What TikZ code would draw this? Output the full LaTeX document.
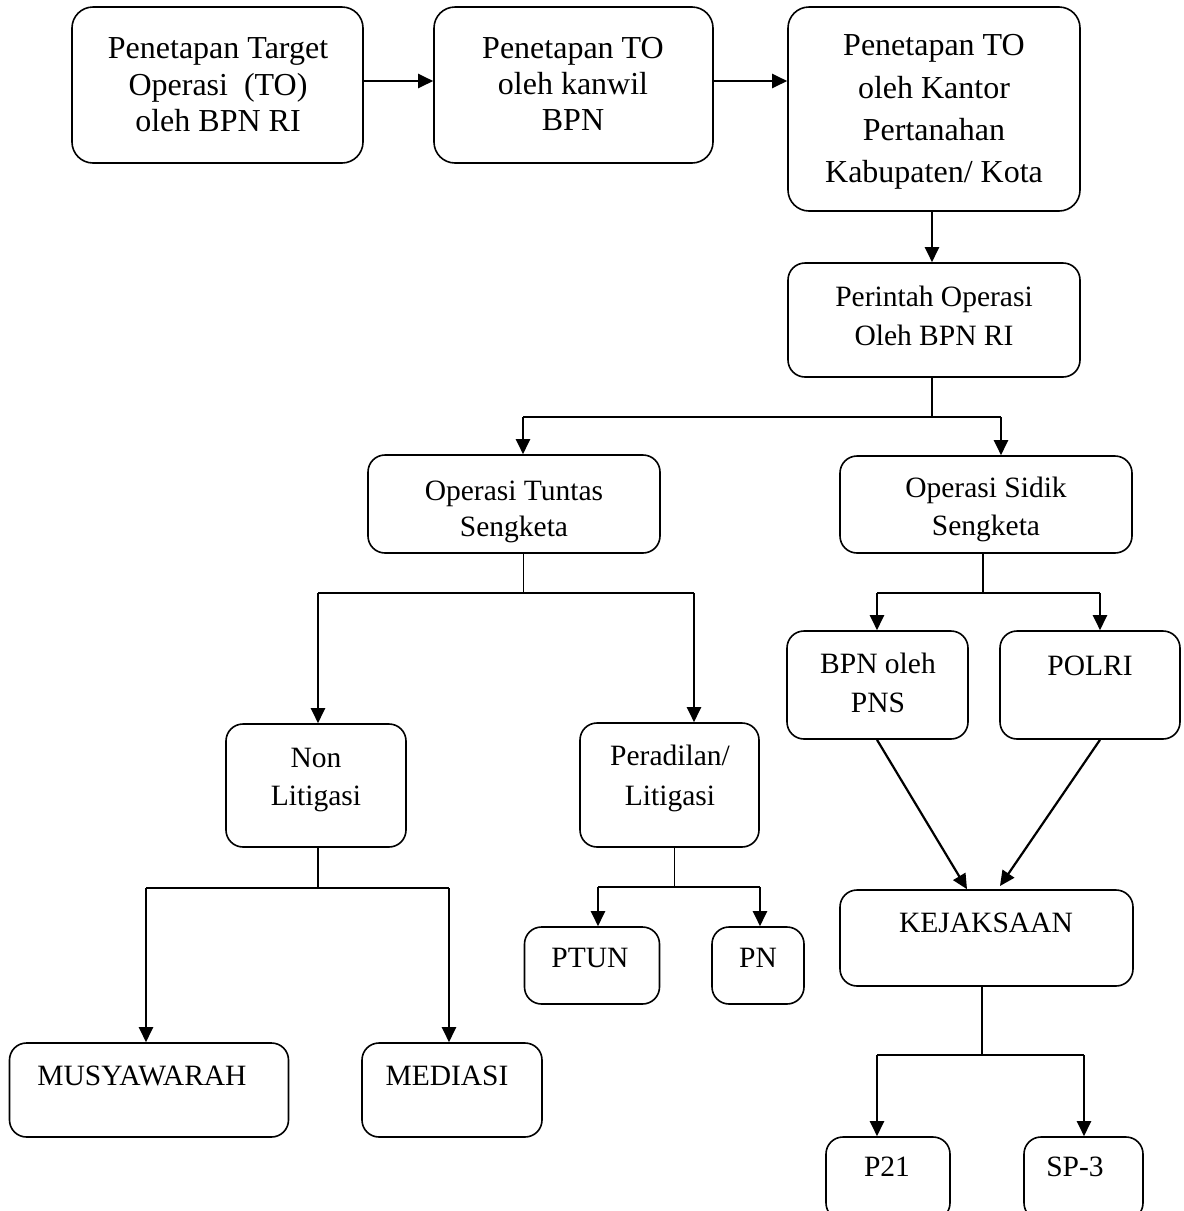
\documentclass[tikz,border=0pt]{standalone}
\usepackage{fontspec}
\setmainfont{Liberation Serif}
\usetikzlibrary{arrows.meta}
\begin{document}
\begin{tikzpicture}[x=1pt,y=-1pt,
  box/.style={draw, line width=1.6pt, rounded corners=17pt, inner sep=0pt},
  bigbox/.style={box, rounded corners=21pt},
  txt/.style={anchor=base, inner sep=0pt, font=\fontsize{29.5}{36}\selectfont},
  bigtxt/.style={anchor=base, inner sep=0pt, font=\fontsize{32}{38}\selectfont},
  stem/.style={line width=1.3pt},
  arr/.style={line width=2.2pt, -{Triangle[length=15pt,width=14pt]}}]
\useasboundingbox (0,0) rectangle (1184,1211);
% boxes (centre, width, height)
\node[bigbox, minimum width=291pt, minimum height=156pt] (A) at (217.5,85) {};
\node[bigbox, minimum width=279pt, minimum height=156pt] (B) at (573.5,85) {};
\node[bigbox, minimum width=292pt, minimum height=204pt] (C) at (934,109) {};
\node[box, minimum width=292pt, minimum height=114pt] (D) at (934,320) {};
\node[box, minimum width=292pt, minimum height=98pt] (E) at (514,504) {};
\node[box, minimum width=292pt, minimum height=97pt] (F) at (986,504.5) {};
\node[box, minimum width=181pt, minimum height=108pt] (G) at (877.5,685) {};
\node[box, minimum width=180pt, minimum height=108pt] (H) at (1090,685) {};
\node[box, minimum width=180pt, minimum height=123pt] (I) at (316,785.5) {};
\node[box, minimum width=179pt, minimum height=124pt] (J) at (669.5,785) {};
\node[box, minimum width=135pt, minimum height=77pt] (PT) at (592,965.5) {};
\node[box, minimum width=92pt, minimum height=77pt] (PN) at (758,965.5) {};
\node[box, minimum width=279pt, minimum height=94pt] (MU) at (149,1090) {};
\node[box, minimum width=180pt, minimum height=94pt] (ME) at (452,1090) {};
\node[box, minimum width=293pt, minimum height=96pt] (K) at (986.5,938) {};
\node[box, minimum width=124pt, minimum height=83pt] (P) at (888,1178.5) {};
\node[box, minimum width=119pt, minimum height=83pt] (S) at (1083.5,1178.5) {};
% texts
\node[bigtxt] at (218,58) {Penetapan Target};
\node[bigtxt] at (218,95) {Operasi\ \ (TO)};
\node[bigtxt] at (218,131) {oleh BPN RI};
\node[bigtxt] at (573,58) {Penetapan TO};
\node[bigtxt] at (573,94) {oleh kanwil};
\node[bigtxt] at (573,130) {BPN};
\node[bigtxt] at (934,55) {Penetapan TO};
\node[bigtxt] at (934,98) {oleh Kantor};
\node[bigtxt] at (934,140) {Pertanahan};
\node[bigtxt] at (934,182) {Kabupaten/ Kota};
\node[txt] at (934,306) {Perintah Operasi};
\node[txt] at (934,345) {Oleh BPN RI};
\node[txt] at (514,500) {Operasi Tuntas};
\node[txt] at (514,536) {Sengketa};
\node[txt] at (986,497) {Operasi Sidik};
\node[txt] at (986,535) {Sengketa};
\node[txt] at (878,673) {BPN oleh};
\node[txt] at (878,712) {PNS};
\node[txt] at (1090,675) {POLRI};
\node[txt] at (316,767) {Non};
\node[txt] at (316,805) {Litigasi};
\node[txt] at (670,765) {Peradilan/};
\node[txt] at (670,805) {Litigasi};
\node[txt] at (590,967) {PTUN};
\node[txt] at (758,967) {PN};
\node[txt] at (142,1085) {MUSYAWARAH};
\node[txt] at (447,1085) {MEDIASI};
\node[txt] at (986,932) {KEJAKSAAN};
\node[txt] at (887,1176) {P21};
\node[txt] at (1075,1176) {SP-3};
% connectors
\draw[arr] (A.east |- 0,81) -- (B.west |- 0,81);
\draw[arr] (B.east |- 0,81) -- (C.west |- 0,81);
\draw[arr] (C.south -| 932,0) -- (D.north -| 932,0);
% D -> E, F
\coordinate (d1) at (932,417);
\draw[stem] (D.south -| 932,0) -- (d1);
\draw[stem] (523,417) -- (1001,417);
\draw[arr] (523,417) -- (E.north -| 523,0);
\draw[arr] (1001,417) -- (F.north -| 1001,0);
% E -> I, J
\coordinate (e1) at (523.5,593);
\draw[stem] (E.south -| 523.5,0) -- (e1);
\draw[stem] (318,593) -- (694,593);
\draw[arr] (318,593) -- (I.north -| 318,0);
\draw[arr] (694,593) -- (J.north -| 694,0);
% F -> G, H
\coordinate (f1) at (983,593);
\draw[stem] (F.south -| 983,0) -- (f1);
\draw[stem] (877,593) -- (1100,593);
\draw[arr] (877,593) -- (G.north -| 877,0);
\draw[arr] (1100,593) -- (H.north -| 1100,0);
% G, H -> K
\coordinate (k0) at (1000,886);
\draw[arr] (G.south -| 877,0) -- (K.north -| 967,0);
\draw[arr] (H.south -| 1100,0) -- (k0);
% I -> MU, ME
\coordinate (i1) at (318,888);
\draw[stem] (I.south -| 318,0) -- (i1);
\draw[stem] (146,888) -- (449,888);
\draw[arr] (146,888) -- (MU.north -| 146,0);
\draw[arr] (449,888) -- (ME.north -| 449,0);
% J -> PT, PN
\coordinate (j1) at (674.5,887);
\draw[stem] (J.south -| 674.5,0) -- (j1);
\draw[stem] (598,887) -- (760,887);
\draw[arr] (598,887) -- (PT.north -| 598,0);
\draw[arr] (760,887) -- (PN.north -| 760,0);
% K -> P, S
\coordinate (k1) at (982,1055);
\draw[stem] (K.south -| 982,0) -- (k1);
\draw[stem] (877,1055) -- (1084,1055);
\draw[arr] (877,1055) -- (P.north -| 877,0);
\draw[arr] (1084,1055) -- (S.north -| 1084,0);
\end{tikzpicture}
\end{document}
